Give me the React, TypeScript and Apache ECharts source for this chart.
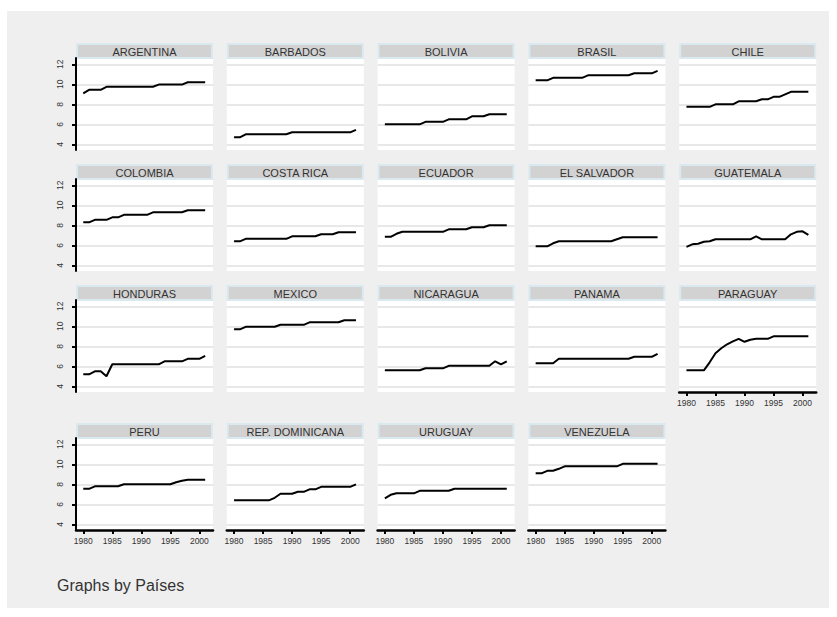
import React, { useEffect, useRef } from "react";
import * as echarts from "echarts";

const years = [1980, 1981, 1982, 1983, 1984, 1985, 1986, 1987, 1988, 1989, 1990, 1991, 1992, 1993, 1994, 1995, 1996, 1997, 1998, 1999, 2000, 2001];
const yTicks = [4, 6, 8, 10, 12];
const xTicks = [1980, 1985, 1990, 1995, 2000];
const xTickLabels = ["1980", "1985", "1990", "1995", "2000"];

const argentina = [9.1, 9.45, 9.45, 9.45, 9.75, 9.75, 9.75, 9.75, 9.75, 9.75, 9.75, 9.75, 9.75, 9.97, 9.97, 9.97, 9.97, 9.97, 10.2, 10.2, 10.2, 10.2];
const barbados = [4.7, 4.7, 5.0, 5.0, 5.0, 5.0, 5.0, 5.0, 5.0, 5.0, 5.2, 5.2, 5.2, 5.2, 5.2, 5.2, 5.2, 5.2, 5.2, 5.2, 5.2, 5.45];
const bolivia = [6.0, 6.0, 6.0, 6.0, 6.0, 6.0, 6.0, 6.25, 6.25, 6.25, 6.25, 6.5, 6.5, 6.5, 6.5, 6.8, 6.8, 6.8, 7.0, 7.0, 7.0, 7.0];
const brasil = [10.4, 10.4, 10.4, 10.65, 10.65, 10.65, 10.65, 10.65, 10.65, 10.9, 10.9, 10.9, 10.9, 10.9, 10.9, 10.9, 10.9, 11.1, 11.1, 11.1, 11.1, 11.35];
const chile = [7.75, 7.75, 7.75, 7.75, 7.75, 8.0, 8.0, 8.0, 8.0, 8.3, 8.3, 8.3, 8.3, 8.5, 8.5, 8.75, 8.75, 9.0, 9.25, 9.25, 9.25, 9.25];
const colombia = [8.3, 8.3, 8.55, 8.55, 8.55, 8.8, 8.8, 9.05, 9.05, 9.05, 9.05, 9.05, 9.3, 9.3, 9.3, 9.3, 9.3, 9.3, 9.5, 9.5, 9.5, 9.5];
const costaRica = [6.4, 6.4, 6.65, 6.65, 6.65, 6.65, 6.65, 6.65, 6.65, 6.65, 6.9, 6.9, 6.9, 6.9, 6.9, 7.1, 7.1, 7.1, 7.3, 7.3, 7.3, 7.3];
const ecuador = [6.85, 6.85, 7.15, 7.35, 7.35, 7.35, 7.35, 7.35, 7.35, 7.35, 7.35, 7.6, 7.6, 7.6, 7.6, 7.8, 7.8, 7.8, 8.0, 8.0, 8.0, 8.0];
const elSalvador = [5.9, 5.9, 5.9, 6.2, 6.4, 6.4, 6.4, 6.4, 6.4, 6.4, 6.4, 6.4, 6.4, 6.4, 6.6, 6.8, 6.8, 6.8, 6.8, 6.8, 6.8, 6.8];
const guatemala = [5.85, 6.1, 6.15, 6.35, 6.4, 6.6, 6.6, 6.6, 6.6, 6.6, 6.6, 6.6, 6.9, 6.6, 6.6, 6.6, 6.6, 6.6, 7.1, 7.35, 7.4, 7.05];
const honduras = [5.2, 5.2, 5.5, 5.5, 5.0, 6.2, 6.2, 6.2, 6.2, 6.2, 6.2, 6.2, 6.2, 6.2, 6.5, 6.5, 6.5, 6.5, 6.75, 6.75, 6.75, 7.05];
const mexico = [9.7, 9.7, 9.95, 9.95, 9.95, 9.95, 9.95, 9.95, 10.15, 10.15, 10.15, 10.15, 10.15, 10.4, 10.4, 10.4, 10.4, 10.4, 10.4, 10.6, 10.6, 10.6];
const nicaragua = [5.6, 5.6, 5.6, 5.6, 5.6, 5.6, 5.6, 5.8, 5.8, 5.8, 5.8, 6.05, 6.05, 6.05, 6.05, 6.05, 6.05, 6.05, 6.05, 6.5, 6.2, 6.5];
const panama = [6.3, 6.3, 6.3, 6.3, 6.75, 6.75, 6.75, 6.75, 6.75, 6.75, 6.75, 6.75, 6.75, 6.75, 6.75, 6.75, 6.75, 6.95, 6.95, 6.95, 6.95, 7.25];
const paraguay = [5.6, 5.6, 5.6, 5.6, 6.4, 7.3, 7.8, 8.2, 8.5, 8.75, 8.45, 8.65, 8.75, 8.75, 8.75, 9.0, 9.0, 9.0, 9.0, 9.0, 9.0, 9.0];
const peru = [7.55, 7.55, 7.8, 7.8, 7.8, 7.8, 7.8, 8.0, 8.0, 8.0, 8.0, 8.0, 8.0, 8.0, 8.0, 8.0, 8.2, 8.35, 8.45, 8.45, 8.45, 8.45];
const repDominicana = [6.4, 6.4, 6.4, 6.4, 6.4, 6.4, 6.4, 6.65, 7.05, 7.05, 7.05, 7.25, 7.25, 7.5, 7.5, 7.75, 7.75, 7.75, 7.75, 7.75, 7.75, 8.0];
const uruguay = [6.6, 6.95, 7.1, 7.1, 7.1, 7.1, 7.35, 7.35, 7.35, 7.35, 7.35, 7.35, 7.55, 7.55, 7.55, 7.55, 7.55, 7.55, 7.55, 7.55, 7.55, 7.55];
const venezuela = [9.1, 9.1, 9.35, 9.35, 9.55, 9.8, 9.8, 9.8, 9.8, 9.8, 9.8, 9.8, 9.8, 9.8, 9.8, 10.05, 10.05, 10.05, 10.05, 10.05, 10.05, 10.05];

const countries = ["ARGENTINA", "BARBADOS", "BOLIVIA", "BRASIL", "CHILE", "COLOMBIA", "COSTA RICA", "ECUADOR", "EL SALVADOR", "GUATEMALA", "HONDURAS", "MEXICO", "NICARAGUA", "PANAMA", "PARAGUAY", "PERU", "REP. DOMINICANA", "URUGUAY", "VENEZUELA"];
const seriesValues = [argentina, barbados, bolivia, brasil, chile, colombia, costaRica, ecuador, elSalvador, guatemala, honduras, mexico, nicaragua, panama, paraguay, peru, repDominicana, uruguay, venezuela];

const footnote = "Graphs by Países";

export default function App() {
  const ref = useRef<HTMLDivElement>(null);
  useEffect(() => {
    if (!ref.current) return;
    const chart = echarts.init(ref.current, null, { renderer: "svg" });
    const ox = 7, oy = 11;
    const colLeft = [76, 226.8, 377.6, 528.4, 679.2];
    const rowTop = [43, 164, 285, 423];
    const panelW = 137, headerH = 15, plotH = 92;
    const n = countries.length;
    const grids: any[] = [];
    const xAxes: any[] = [];
    const yAxes: any[] = [];
    const series: any[] = [];
    const graphics: any[] = [];
    const ff = "'Liberation Sans', Arial, sans-serif";
    for (let i = 0; i < n; i++) {
      const r = Math.floor(i / 5), c = i % 5;
      const left = colLeft[c] - ox;
      const top = rowTop[r] - oy;
      grids.push({ left, top: top + headerH, width: panelW, height: plotH, show: true, backgroundColor: "#ffffff", borderWidth: 0, containLabel: false });
      const showX = i + 5 >= n;
      const showY = c === 0;
      xAxes.push({
        type: "value", gridIndex: i, min: 1978.75, max: 2002.35, position: "bottom",
        axisLine: { show: showX, onZero: false, lineStyle: { color: "#000", width: 2.5 } },
        axisTick: { show: showX, customValues: xTicks, length: 4, lineStyle: { color: "#000", width: 2 } },
        axisLabel: { show: showX, customValues: xTicks, formatter: (v: number) => xTickLabels[xTicks.indexOf(v)] ?? String(v), fontSize: 8.5, color: "#333", margin: 6, fontFamily: ff },
        splitLine: { show: false },
      });
      yAxes.push({
        type: "value", gridIndex: i, min: 3.43, max: 12.63,
        axisLine: { show: showY, onZero: false, lineStyle: { color: "#000", width: 2 } },
        axisTick: { show: showY, customValues: yTicks, length: 4, lineStyle: { color: "#000", width: 2 } },
        axisLabel: { show: showY, customValues: yTicks, rotate: 90, fontSize: 8.5, color: "#333", margin: 12, fontFamily: ff },
        splitLine: { show: true, lineStyle: { color: "#e8e8e8", width: 2 } },
      });
      series.push({
        type: "line", xAxisIndex: i, yAxisIndex: i, symbol: "none",
        data: years.map((y, k) => [y, seriesValues[i][k]]),
        lineStyle: { color: "#000", width: 2 },
        silent: true,
      });
      graphics.push({
        type: "rect", shape: { x: left + 1, y: top + 1, width: panelW - 2, height: headerH - 1 },
        style: { fill: "#d2d2d2", stroke: "#dae8f0", lineWidth: 2 },
      });
      graphics.push({
        type: "text", x: left + panelW / 2, y: top + headerH / 2 + 1,
        style: { text: countries[i], fill: "#333", fontSize: 11, fontWeight: "normal", fontFamily: ff, textAlign: "center", textVerticalAlign: "middle" },
      });
    }
    graphics.push({
      type: "text", x: 57 - ox, y: 585 - oy,
      style: { text: footnote, fill: "#333", fontSize: 16, fontWeight: "normal", fontFamily: ff, textAlign: "left", textVerticalAlign: "middle" },
    });
    chart.setOption({
      animation: false,
      backgroundColor: "#efefef",
      grid: grids,
      xAxis: xAxes,
      yAxis: yAxes,
      series,
      graphic: graphics,
    });
    return () => chart.dispose();
  }, []);
  return <div ref={ref} style={{ position: "absolute", left: 7, top: 11, width: 822, height: 597 }} />;
}
